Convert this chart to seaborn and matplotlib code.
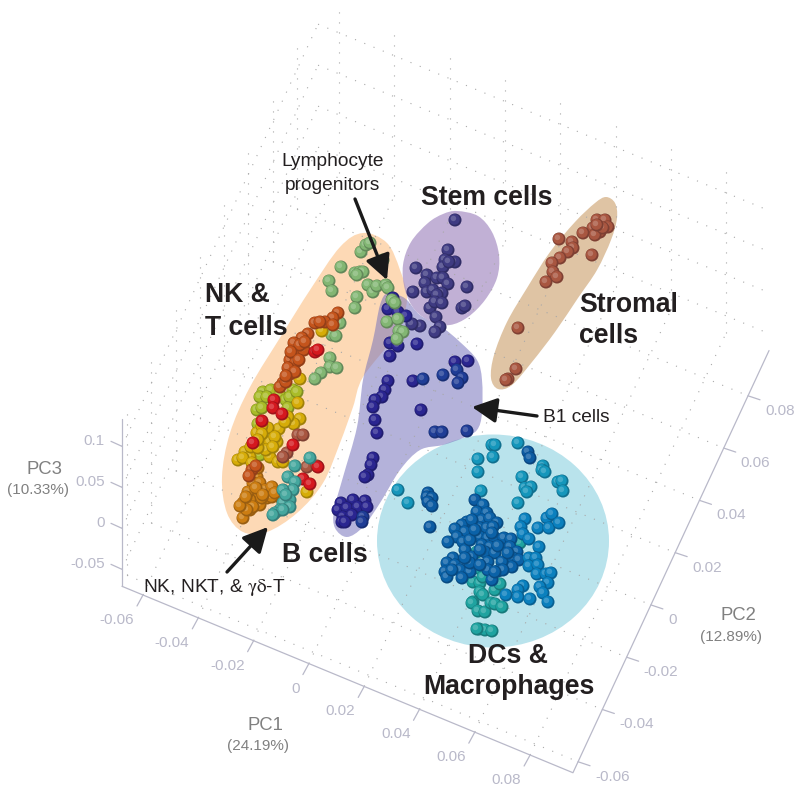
import numpy as np
import pandas as pd
import matplotlib
matplotlib.use("Agg")
import matplotlib.pyplot as plt
import seaborn as sns
from matplotlib.colors import to_rgb
from matplotlib.patches import Ellipse, PathPatch
from matplotlib.path import Path

# axis ticks
pc1_ticks = [-0.06, -0.04, -0.02, 0, 0.02, 0.04, 0.06, 0.08]
pc2_ticks = [-0.06, -0.04, -0.02, 0, 0.02, 0.04, 0.06, 0.08]
pc3_ticks = [-0.05, 0, 0.05, 0.1]
pc1_labels = ["-0.06", "-0.04", "-0.02", "0", "0.02", "0.04", "0.06", "0.08"]
pc2_labels = ["-0.06", "-0.04", "-0.02", "0", "0.02", "0.04", "0.06", "0.08"]
pc3_labels = ["-0.05", "0", "0.05", "0.1"]

# points, as seen in the projected view
nk_green_x = [361, 366, 370, 341, 355, 360, 363, 357, 329, 332, 368, 373, 377, 386, 388, 383, 357, 355, 340, 332, 336, 330, 330, 337, 321, 315]
nk_green_y = [252, 245, 243, 267, 273, 272, 272, 275, 281, 291, 285, 292, 286, 285, 288, 260, 297, 308, 323, 335, 336, 358, 367, 368, 373, 379]
nk_olive_x = [263, 271, 260, 267, 257, 262, 280, 286, 293, 290, 297, 288, 265, 260, 272, 258]
nk_olive_y = [392, 390, 397, 397, 410, 408, 395, 400, 390, 397, 392, 408, 450, 455, 436, 424]
nk_rust_x = [338, 333, 325, 333, 315, 320, 308, 302, 297, 290, 295, 292, 290, 283, 280, 286, 294, 302, 296, 304, 300, 291, 288, 295, 286, 299, 305, 252, 256, 249]
nk_rust_y = [313, 318, 322, 325, 323, 322, 334, 338, 348, 360, 355, 367, 374, 383, 387, 382, 343, 345, 362, 350, 345, 352, 368, 372, 376, 360, 342, 470, 466, 476]
nk_red_x = [315, 318, 274, 273, 282, 262, 293, 253, 318, 303, 310]
nk_red_y = [352, 350, 400, 408, 414, 421, 445, 443, 467, 479, 484]
nk_gold_x = [322, 300, 298, 300, 294, 279, 288, 285, 257, 268, 277, 245, 238, 250, 270, 278, 283, 307, 257, 263, 270, 275, 251, 262, 266, 258, 273, 262, 258, 243, 252]
nk_gold_y = [331, 379, 403, 419, 424, 429, 417, 422, 433, 428, 442, 452, 460, 457, 457, 462, 462, 492, 443, 440, 442, 437, 447, 426, 450, 448, 447, 434, 440, 458, 463]
nk_orange_x = [252, 257, 253, 260, 255, 265, 272, 280, 267, 260, 250, 243, 250, 243, 253, 272, 258, 262, 248, 256, 247, 263, 240, 246, 275]
nk_orange_y = [477, 477, 483, 483, 493, 490, 487, 497, 498, 505, 500, 503, 510, 518, 507, 497, 468, 498, 492, 488, 510, 495, 506, 497, 493]
nk_brown_x = [298, 303, 287, 283, 307, 317]
nk_brown_y = [435, 435, 453, 457, 467, 466]
nk_teal_x = [295, 310, 288, 295, 293, 283, 290, 283, 290, 280, 275, 283, 273, 286]
nk_teal_y = [466, 458, 477, 482, 490, 490, 500, 503, 507, 510, 513, 510, 515, 495]
prog_green_x = [392, 395, 387, 398, 399, 403, 397]
prog_green_y = [300, 303, 322, 319, 331, 332, 339]

stem_x = [455, 448, 445, 455, 443, 449, 416, 427, 425, 437, 443, 448, 467, 413, 427, 433, 442, 437, 430, 435, 442, 462, 465, 436, 440, 435, 420, 412]
stem_y = [220, 250, 260, 262, 267, 262, 268, 275, 283, 278, 278, 284, 287, 292, 292, 290, 293, 295, 308, 302, 303, 308, 306, 317, 327, 332, 326, 324]
b_navy_x = [393, 388, 398, 406, 390, 398, 390, 417, 455, 468, 413, 388, 385, 382, 375, 373, 375, 377, 421, 373, 371, 368, 365, 341, 353, 365, 338, 347, 358, 367, 343, 352, 342, 345]
b_navy_y = [298, 309, 312, 316, 343, 346, 356, 344, 362, 361, 381, 381, 390, 397, 400, 407, 420, 433, 410, 458, 465, 475, 477, 503, 500, 501, 510, 508, 507, 507, 517, 515, 522, 522]
b_blue_x = [457, 443, 462, 458, 423, 435, 442, 467, 363, 362]
b_blue_y = [370, 375, 378, 383, 379, 432, 432, 431, 517, 522]

stromal_x = [602, 597, 605, 608, 593, 600, 595, 583, 559, 572, 573, 568, 592, 560, 552, 553, 557, 546, 518, 516, 508, 506, 603, 597]
stromal_y = [225, 220, 220, 227, 228, 232, 235, 233, 239, 242, 248, 252, 255, 258, 263, 272, 277, 282, 328, 369, 379, 380, 228, 225]

dc_cyan_x = [492, 495, 518, 493, 478, 478, 543, 542, 545, 522, 525, 531, 527, 558, 562, 563, 518, 398, 408, 481]
dc_cyan_y = [445, 445, 443, 457, 459, 472, 466, 470, 472, 477, 488, 487, 492, 482, 481, 491, 503, 490, 503, 491]
dc_navy_x = [528, 530, 428, 427, 432, 428, 432, 430, 475]
dc_navy_y = [452, 458, 493, 497, 498, 502, 506, 527, 500]
dc_mid_x = [483, 477, 487, 482, 490, 497, 467, 462, 455, 465, 457, 448, 463, 480, 487, 493, 480, 488, 495, 482, 490, 465, 472, 485, 495, 488, 453, 447, 455, 465, 460, 445, 447, 470, 462, 504, 511, 510, 517, 513, 519, 512, 502, 488, 492, 498, 503, 472, 470, 475, 480, 492, 498, 470, 480, 495, 508, 465, 452]
dc_mid_y = [505, 512, 513, 520, 518, 523, 522, 525, 529, 532, 537, 542, 542, 528, 528, 527, 537, 538, 538, 545, 547, 550, 557, 552, 553, 562, 558, 563, 565, 565, 570, 572, 577, 572, 578, 538, 539, 547, 552, 558, 560, 567, 562, 570, 580, 571, 570, 520, 540, 530, 550, 533, 546, 563, 565, 572, 553, 558, 570]
dc_blue_x = [525, 521, 523, 529, 538, 547, 552, 549, 559, 539, 529, 536, 529, 538, 537, 546, 551, 548, 540, 543, 548, 523, 518, 518, 530, 506]
dc_blue_y = [519, 527, 534, 539, 528, 518, 514, 528, 523, 547, 558, 558, 566, 565, 574, 574, 573, 583, 587, 593, 602, 586, 590, 597, 599, 595]
dc_teal_x = [520, 477, 478, 473, 480, 483, 480, 483, 495, 500, 473, 472, 478, 485, 491, 495, 502, 479, 485, 492, 477]
dc_teal_y = [543, 552, 568, 582, 583, 577, 592, 595, 590, 584, 602, 603, 611, 612, 603, 604, 607, 629, 630, 631, 629]

groups = [
    (nk_green_x, nk_green_y, "#82b673"),
    (nk_olive_x, nk_olive_y, "#a9bc28"),
    (nk_gold_x, nk_gold_y, "#d6ac08"),
    (nk_orange_x, nk_orange_y, "#cc7d12"),
    (nk_rust_x, nk_rust_y, "#c4541c"),
    (nk_brown_x, nk_brown_y, "#a85640"),
    (nk_red_x, nk_red_y, "#d5181e"),
    (nk_teal_x, nk_teal_y, "#45a79e"),
    (stem_x, stem_y, "#3f3b82"),
    (b_navy_x, b_navy_y, "#2a2590"),
    (b_blue_x, b_blue_y, "#1f3d96"),
    (prog_green_x, prog_green_y, "#82b673"),
    (stromal_x, stromal_y, "#a85640"),
    (dc_cyan_x, dc_cyan_y, "#1596bb"),
    (dc_teal_x, dc_teal_y, "#1fa3a0"),
    (dc_navy_x, dc_navy_y, "#0c5ba2"),
    (dc_mid_x, dc_mid_y, "#0b62a8"),
    (dc_blue_x, dc_blue_y, "#0a80be"),
]

P1_MIN, P1_MAX = -0.0676, 0.0955
P2_MIN, P2_MAX = -0.0642, 0.0973
P3_MIN, P3_MAX = -0.0707, 0.1330


def mix(colour, other, amount):
    c = np.array(to_rgb(colour))
    return matplotlib.colors.to_hex(c * (1 - amount) + np.array(other) * amount)


def projected(p1, p2, p3):
    # the 3D box is a plain affine view, worked out from the tick positions
    x = 143 + (p1 + 0.06) * 2765 + (p2 - P2_MIN) * 1214
    y = 595 + (p1 + 0.06) * 1143 - (p2 - P2_MIN) * 2614 - (p3 - P3_MIN) * 820
    return x, y


def blob(ax, outline, **kw):
    # closed Catmull-Rom curve through the outline points
    pts = np.array(outline, dtype=float)
    n = len(pts)
    verts = [pts[0]]
    codes = [Path.MOVETO]
    for i in range(n):
        p0, p1, p2, p3 = pts[i - 1], pts[i], pts[(i + 1) % n], pts[(i + 2) % n]
        verts += [p1 + (p2 - p0) / 6, p2 - (p3 - p1) / 6, p2]
        codes += [Path.CURVE4] * 3
    ax.add_patch(PathPatch(Path(verts, codes), lw=0, **kw))


def draw_grid(ax):
    style = dict(color="#a8a8a8", lw=0.8, ls=(0, (1, 8)), zorder=2)
    for t in pc1_ticks:
        xs, ys = projected(np.array([t, t]), np.array([P2_MIN, P2_MAX]), np.array([P3_MIN, P3_MIN]))
        ax.plot(xs, ys, **style)
        xs, ys = projected(np.array([t, t]), np.array([P2_MAX, P2_MAX]), np.array([P3_MIN, P3_MAX]))
        ax.plot(xs, ys, **style)
    for t in pc2_ticks:
        xs, ys = projected(np.array([P1_MIN, P1_MAX]), np.array([t, t]), np.array([P3_MIN, P3_MIN]))
        ax.plot(xs, ys, **style)
        xs, ys = projected(np.array([P1_MIN, P1_MIN]), np.array([t, t]), np.array([P3_MIN, P3_MAX]))
        ax.plot(xs, ys, **style)
    for t in pc3_ticks:
        xs, ys = projected(np.array([P1_MIN, P1_MAX]), np.array([P2_MAX, P2_MAX]), np.array([t, t]))
        ax.plot(xs, ys, **style)
        xs, ys = projected(np.array([P1_MIN, P1_MIN]), np.array([P2_MIN, P2_MAX]), np.array([t, t]))
        ax.plot(xs, ys, **style)


def draw_axes(ax):
    line = dict(color="#b9b9c9", lw=0.9, zorder=3)
    tick_text = dict(color="#b9b9c9", fontsize=11)
    # PC1 edge, PC2 edge and the vertical PC3 edge
    x, y = projected(np.array([P1_MIN, P1_MAX, P1_MAX]), np.array([P2_MIN, P2_MIN, P2_MAX]), np.full(3, P3_MIN))
    ax.plot(x, y, **line)
    x, y = projected(np.array([P1_MIN, P1_MIN]), np.array([P2_MIN, P2_MIN]), np.array([P3_MIN, P3_MAX]))
    ax.plot(x, y, **line)
    for t, lab in zip(pc1_ticks, pc1_labels):
        x, y = projected(t, P2_MIN, P3_MIN)
        ax.plot([x, x - 6], [y, y + 11], **line)
        ax.text(x - 9, y + 25, lab, ha="right", va="center", **tick_text)
    for t, lab in zip(pc2_ticks, pc2_labels):
        x, y = projected(P1_MAX, t, P3_MIN)
        ax.plot([x, x + 12], [y, y + 4], **line)
        ax.text(x + 17, y + 15, lab, ha="left", va="center", **tick_text)
    for t, lab in zip(pc3_ticks, pc3_labels):
        x, y = projected(P1_MIN, P2_MIN, t)
        ax.plot([x, x - 11], [y, y - 5], **line)
        ax.text(x - 17, y - 5, lab, ha="right", va="center", **tick_text)
    names = [("PC1", "(24.19%)", 265, 725, 258, 746),
             ("PC2", "(12.89%)", 738, 616, 731, 637),
             ("PC3", "(10.33%)", 45, 470, 38, 490)]
    for name, pct, nx, ny, px, py in names:
        ax.text(nx, ny, name, color="#808080", fontsize=13.3, ha="center", va="center")
        ax.text(px, py, pct, color="#808080", fontsize=11, ha="center", va="center")


def sphere_table():
    rows = []
    for xs, ys, colour in groups:
        dark = mix(colour, (0, 0, 0.05), 0.25)
        light = mix(colour, (1, 1, 1), 0.2)
        for x, y in zip(xs, ys):
            rows.append((x, y, dark, 88))
            rows.append((x - 0.6, y - 0.6, colour, 60))
            rows.append((x - 1.6, y - 1.6, light, 16))
    return pd.DataFrame(rows, columns=["x", "y", "shade", "area"])


def main():
    sns.set_theme(style="white")
    plt.rcParams["font.family"] = ["Liberation Sans", "DejaVu Sans"]
    plt.rcParams["mathtext.fontset"] = "stix"

    fig = plt.figure(figsize=(8, 7.93), dpi=100)
    ax = fig.add_axes([0, 0, 1, 1])
    ax.set_xlim(0, 800)
    ax.set_ylim(793, 0)
    ax.axis("off")

    ax.add_patch(Ellipse((493, 541), 232, 213, color="#b9e3ec", lw=0, zorder=1))
    blob(ax, [(363, 233), (387, 243), (400, 270), (407, 300), (395, 335), (363, 377), (353, 407), (340, 443),
              (323, 483), (297, 513), (267, 532), (243, 532), (227, 513), (222, 477), (230, 433), (250, 387),
              (283, 333), (310, 290), (340, 247)], color="#fdd9b5", zorder=1)
    blob(ax, [(606, 197), (615, 203), (617, 218), (611, 240), (597, 270), (578, 298), (555, 332), (532, 362),
              (512, 385), (498, 389), (491, 378), (494, 355), (507, 322), (527, 288), (550, 252), (575, 222),
              (595, 203)], color="#dfc4a4", zorder=1)
    blob(ax, [(387, 293), (398, 295), (407, 300), (420, 315), (443, 328), (460, 342), (477, 360), (482, 380),
              (482, 413), (477, 430), (463, 438), (443, 445), (420, 450), (400, 470), (380, 503), (363, 527),
              (347, 537), (335, 528), (334, 510), (343, 477), (357, 427), (363, 380), (373, 340), (380, 305)],
         color="#7773bc", alpha=0.55, zorder=1)
    blob(ax, [(457, 211), (478, 216), (492, 232), (499, 255), (497, 278), (485, 300), (468, 317), (450, 325),
              (432, 322), (415, 310), (405, 290), (403, 265), (411, 242), (428, 223), (443, 214)],
         color="#a78fc4", alpha=0.7, zorder=1)

    draw_grid(ax)
    draw_axes(ax)

    df = sphere_table()
    sns.scatterplot(data=df, x="x", y="y", hue="shade", size="area", ax=ax, legend=False, linewidth=0,
                    palette={c: c for c in df["shade"].unique()},
                    sizes={s: s for s in df["area"].unique()}, zorder=4)
    ax.set_xlim(0, 800)
    ax.set_ylim(793, 0)
    ax.axis("off")

    big = dict(color="#231f20", fontsize=19.2, fontweight="bold", va="center", zorder=6)
    ax.text(487, 198, "Stem cells", ha="center", **big)
    ax.text(205, 295, "NK &", **big)
    ax.text(205, 328, "T cells", **big)
    ax.text(579, 305, "Stromal", **big)
    ax.text(579, 336, "cells", **big)
    ax.text(282, 555, "B cells", **big)
    ax.text(468, 656, "DCs &", **big)
    ax.text(423, 687, "Macrophages", **big)

    small = dict(color="#231f20", fontsize=13.8, va="center", zorder=6)
    ax.text(333, 162, "Lymphocyte", ha="center", **small)
    ax.text(333, 185, "progenitors", ha="center", **small)
    ax.text(543, 418, "B1 cells", **small)
    ax.text(143, 588, r"NK, NKT, & $\mathrm{\gamma\delta}$-T", **small)

    arrow = dict(arrowstyle="-|>,head_length=0.75,head_width=0.38", color="#1a1a1a", lw=2.4,
                 mutation_scale=20, shrinkA=0, shrinkB=0)
    for start, tip in [((355, 199), (387, 280)), ((227, 572), (268, 527)), ((537, 416), (472, 407))]:
        ax.annotate("", xy=tip, xytext=start, arrowprops=arrow, zorder=5)

    fig.savefig("out.png", dpi=100)


if __name__ == "__main__":
    main()
